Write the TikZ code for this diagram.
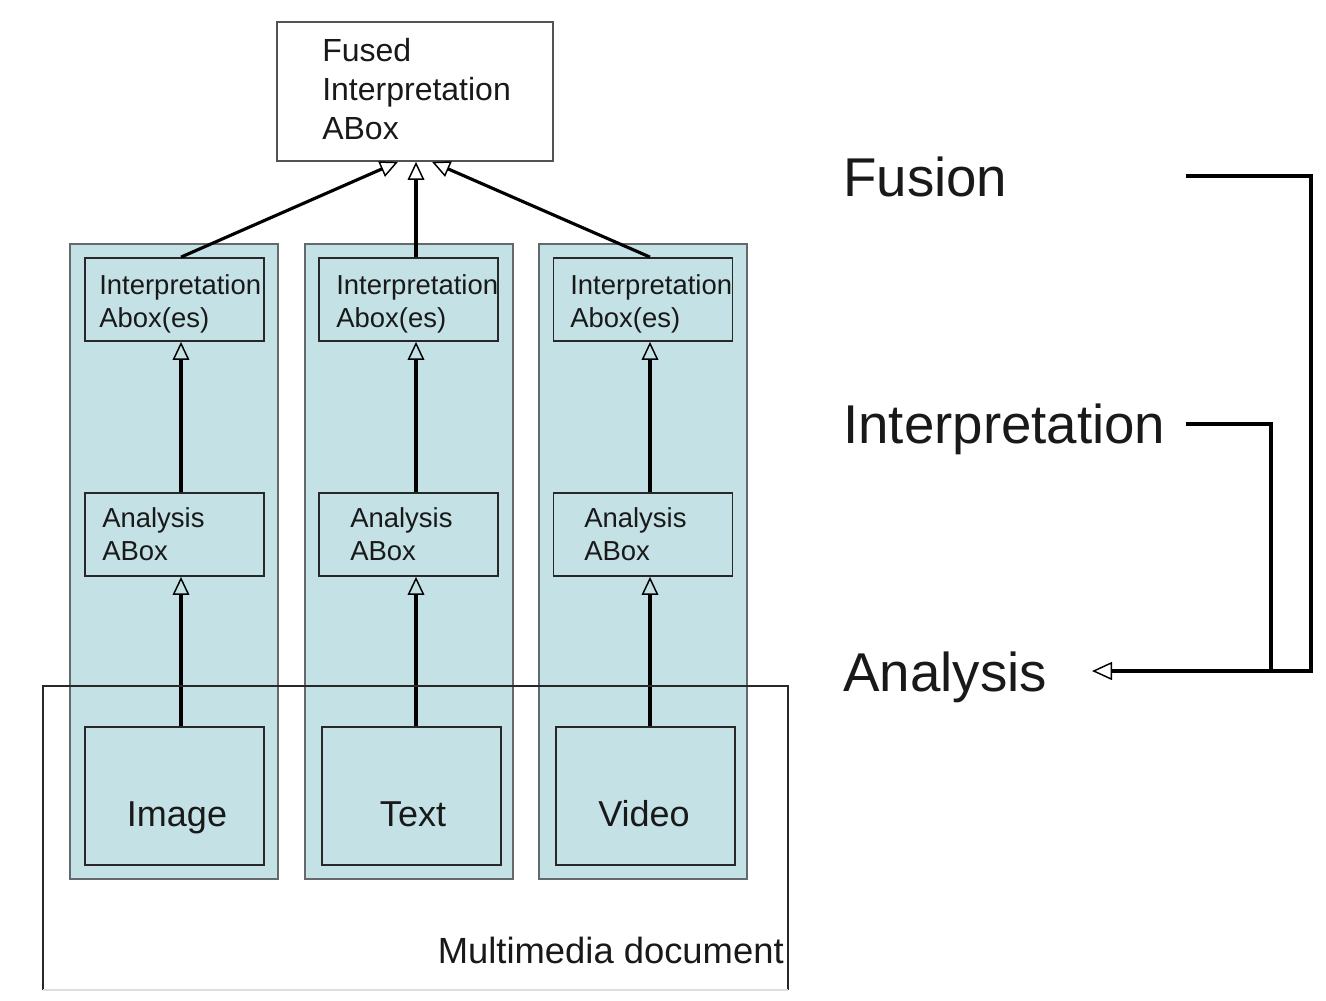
\documentclass[tikz,border=0pt]{standalone}
\usepackage{fontspec}
\setmainfont{Liberation Sans}
\usetikzlibrary{arrows.meta}
\definecolor{colfill}{RGB}{196,226,230}
\definecolor{colline}{RGB}{100,105,108}
\definecolor{boxline}{RGB}{40,40,40}
\definecolor{ink}{RGB}{25,25,25}
\definecolor{faint}{RGB}{222,222,222}
\tikzset{
  column/.style={draw=colline, fill=colfill, line width=1.6pt, inner sep=0pt,
    minimum width=156pt, minimum height=476.25pt},
  smallbox/.style={draw=boxline, line width=1.35pt, inner sep=0pt,
    minimum width=134.25pt, minimum height=62.25pt},
  mediabox/.style={draw=boxline, line width=1.35pt, inner sep=0pt,
    minimum width=134.25pt, minimum height=103.5pt},
  fusedbox/.style={draw=colline!80!black, fill=white, line width=1.3pt, inner sep=0pt,
    minimum width=207pt, minimum height=104.25pt},
  boxtext/.style={text=ink, inner sep=0pt, align=left, anchor=north west,
    font=\fontsize{20.6}{24.75}\selectfont},
  fusedtext/.style={text=ink, inner sep=0pt, align=left, anchor=north west,
    font=\fontsize{24}{29.25}\selectfont},
  medialabel/.style={text=ink, inner sep=0pt, anchor=base,
    font=\fontsize{27}{32}\selectfont},
  levellabel/.style={text=ink, inner sep=0pt, anchor=base west,
    font=\fontsize{41}{49}\selectfont},
  doclabel/.style={text=ink, inner sep=0pt, anchor=base east,
    font=\fontsize{27.3}{32}\selectfont},
  flow/.style={draw=black, line width=2.35pt,
    -{Triangle[open, line width=1.1pt, length=13.5pt, width=12.5pt]}},
  bracket/.style={draw=black, line width=2.35pt},
}
\begin{document}
\begin{tikzpicture}[x=0.75pt, y=-0.75pt]
\useasboundingbox[fill=white] (0,0) rectangle (1326,1000);

% three processing columns
\node[column] (c1) at (174,561.5) {};
\node[column] (c2) at (409,561.5) {};
\node[column] (c3) at (643,561.5) {};

% fused result
\node[fusedbox] (fb) at (415,91.5) {};
\node[fusedtext] (fbt) at (322,38.5) {Fused\\Interpretation\\ABox};

% interpretation aboxes
\node[smallbox] (ib1) at (174.5,299.5) {};
\node[smallbox] (ib2) at (408.5,299.5) {};
\node[smallbox] (ib3) at (643,299.5) {};
\node[boxtext] (ibt1) at (99,274.2) {Interpretation\\Abox(es)};
\node[boxtext] (ibt2) at (336,274.2) {Interpretation\\Abox(es)};
\node[boxtext] (ibt3) at (570,274.2) {Interpretation\\Abox(es)};

% analysis aboxes
\node[smallbox] (ab1) at (174.5,534.5) {};
\node[smallbox] (ab2) at (408.5,534.5) {};
\node[smallbox] (ab3) at (643,534.5) {};
\node[boxtext] (abt1) at (102,507.5) {Analysis\\ABox};
\node[boxtext] (abt2) at (350,507.5) {Analysis\\ABox};
\node[boxtext] (abt3) at (584,507.5) {Analysis\\ABox};

% media items
\node[mediabox] (m1) at (174.5,796) {};
\node[mediabox] (m2) at (411.5,796) {};
\node[mediabox] (m3) at (645.5,796) {};
\node[medialabel] (mt1) at (177,826) {Image};
\node[medialabel] (mt2) at (413,826) {Text};
\node[medialabel] (mt3) at (644,826) {Video};

% arrow lanes
\coordinate (a1) at (181,0);
\coordinate (a2) at (416,0);
\coordinate (a3) at (650,0);
\coordinate (t1) at (398,0);
\coordinate (t3) at (432,0);

\draw[flow] (m1.north -| a1) -- (ab1.south -| a1);
\draw[flow] (m2.north -| a2) -- (ab2.south -| a2);
\draw[flow] (m3.north -| a3) -- (ab3.south -| a3);
\draw[flow] (ab1.north -| a1) -- (ib1.south -| a1);
\draw[flow] (ab2.north -| a2) -- (ib2.south -| a2);
\draw[flow] (ab3.north -| a3) -- (ib3.south -| a3);
\draw[flow] (ib1.north -| a1) -- (fb.south -| t1);
\draw[flow] (ib2.north -| a2) -- (fb.south -| a2);
\draw[flow] (ib3.north -| a3) -- (fb.south -| t3);

% multimedia document frame
\coordinate (mdtl) at (43,686);
\coordinate (mdbr) at (788,990);
\draw[boxline, line width=1.2pt] (mdtl |- mdbr) -- (mdtl) -- (mdtl -| mdbr) -- (mdbr);
\draw[faint, line width=1.5pt] (mdbr) -- (mdtl |- mdbr);
\node[doclabel] (doc) at (784,963) {Multimedia document};

% processing levels
\node[levellabel] (lf) at (843,196.5) {Fusion};
\node[levellabel] (li) at (843,443.5) {Interpretation};
\node[levellabel] (la) at (843,691.5) {Analysis};
\coordinate (fz) at (1186,176);
\coordinate (iz) at (1186,424);
\coordinate (rx1) at (1311,0);
\coordinate (rx2) at (1271,0);
\coordinate (tip) at (1092,671);
\draw[bracket, -{Triangle[open, line width=1.1pt, length=15pt, width=13.5pt]}]
  (fz) -| (rx1 |- tip) -- (tip);
\draw[bracket] (iz) -| (rx2 |- tip);
\end{tikzpicture}
\end{document}
